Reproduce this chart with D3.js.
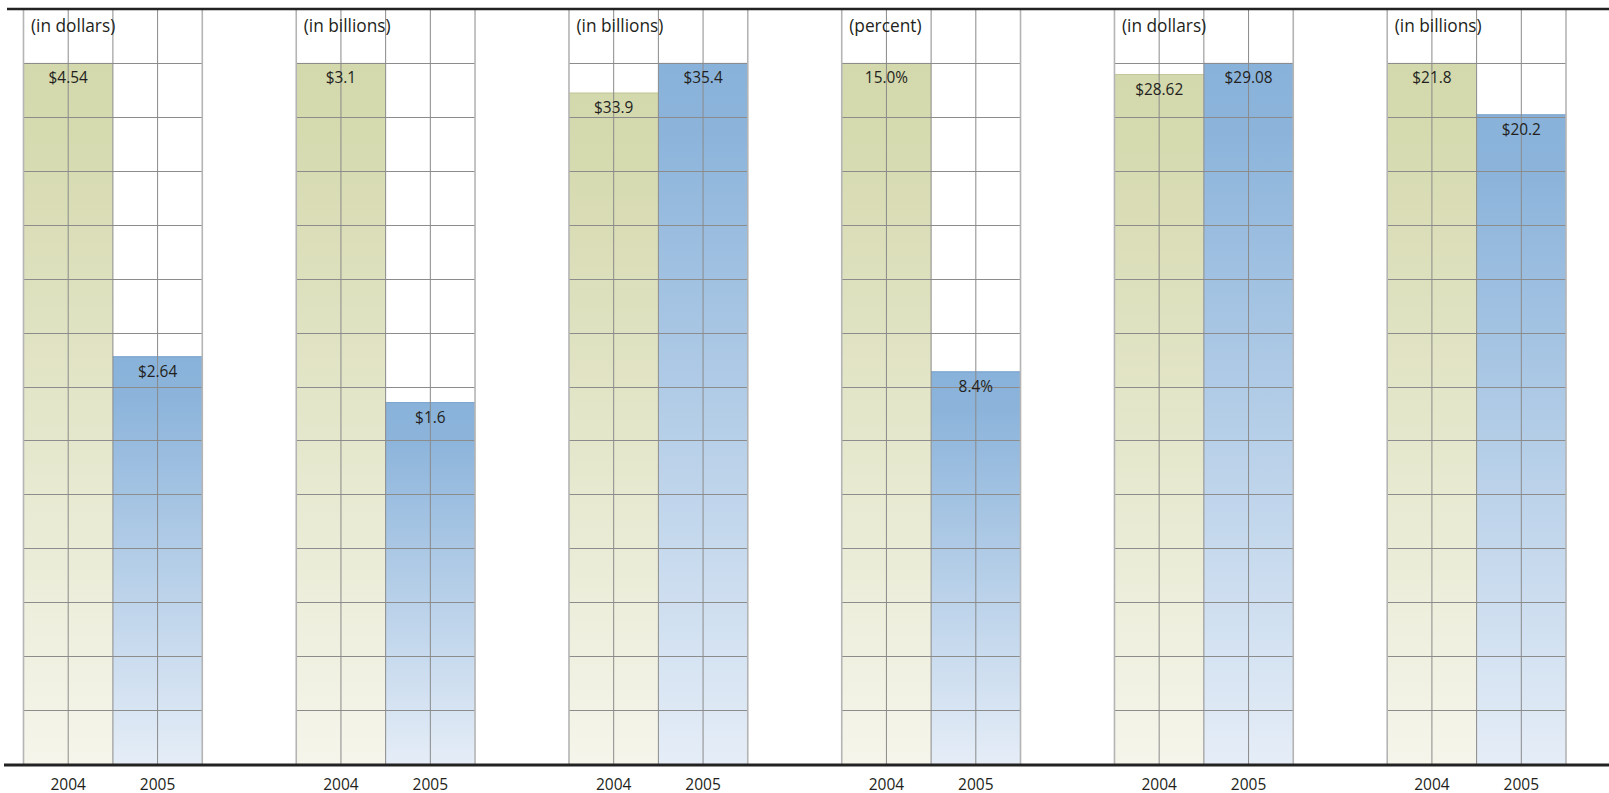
<!DOCTYPE html>
<html>
<head>
<meta charset="utf-8">
<script src="https://cdn.jsdelivr.net/npm/d3@7"></script>
<style>
  body { margin: 0; background: #fff; }
  svg { display: block; font-family: "Open Sans", "Noto Sans", sans-serif; }
</style>
</head>
<body>
<svg width="1609" height="793"></svg>
<script>
const units = ["(in dollars)", "(in billions)", "(in billions)", "(percent)", "(in dollars)", "(in billions)"];
const years = ["2004", "2005"];
const values2004 = [4.54, 3.1, 33.9, 15.0, 28.62, 21.8];
const values2005 = [2.64, 1.6, 35.4, 8.4, 29.08, 20.2];
const labels2004 = ["$4.54", "$3.1", "$33.9", "15.0%", "$28.62", "$21.8"];
const labels2005 = ["$2.64", "$1.6", "$35.4", "8.4%", "$29.08", "$20.2"];

const svg = d3.select("svg");
const width = +svg.attr("width");

const yTop = 9, base = 764, rows = 14;

const panelX = d3.scaleBand()
  .domain(d3.range(units.length))
  .range([23.5, 1566])
  .paddingInner(0.3445);

const yearX = d3.scaleBand().domain(years).range([0, panelX.bandwidth()]);
const rowY = d3.scaleLinear().domain([0, rows]).range([base, yTop]);

// gradients
const defs = svg.append("defs");
const grads = [
  { id: "g2004", stops: [[0, "#d4d8ad"], [0.1, "#d6daaf"], [1, "#f5f5eb"]] },
  { id: "g2005", stops: [[0, "#89b2da"], [0.1, "#8cb4db"], [1, "#e5edf7"]] }
];
grads.forEach(g => {
  const lg = defs.append("linearGradient").attr("id", g.id)
    .attr("x1", 0).attr("y1", 0).attr("x2", 0).attr("y2", 1);
  g.stops.forEach(s => lg.append("stop").attr("offset", s[0]).attr("stop-color", s[1]));
});

const panels = units.map((u, i) => ({
  unit: u,
  bars: [
    { year: "2004", value: values2004[i], label: labels2004[i], fill: "url(#g2004)", edge: "#c4c89a" },
    { year: "2005", value: values2005[i], label: labels2005[i], fill: "url(#g2005)", edge: "#7ba3cc" }
  ]
}));

const g = svg.selectAll(".panel")
  .data(panels)
  .enter()
  .append("g")
  .attr("class", "panel")
  .attr("transform", (d, i) => `translate(${panelX(i)},0)`);

g.each(function(p) {
  const sel = d3.select(this);
  const max = d3.max(p.bars, b => b.value);
  const y = d3.scaleLinear().domain([0, max]).range([base, rowY(rows - 1)]);

  sel.selectAll(".bar")
    .data(p.bars)
    .enter()
    .append("rect")
    .attr("class", "bar")
    .attr("x", b => yearX(b.year))
    .attr("y", b => y(b.value))
    .attr("width", yearX.bandwidth())
    .attr("height", b => base - y(b.value))
    .attr("fill", b => b.fill);

  sel.selectAll(".bartop")
    .data(p.bars)
    .enter()
    .append("line")
    .attr("x1", b => yearX(b.year))
    .attr("x2", b => yearX(b.year) + yearX.bandwidth())
    .attr("y1", b => y(b.value) + 0.5)
    .attr("y2", b => y(b.value) + 0.5)
    .attr("stroke", b => b.edge);

  // grid
  const bw = panelX.bandwidth();
  sel.selectAll(".hgrid")
    .data(d3.range(1, rows))
    .enter()
    .append("line")
    .attr("x1", 0).attr("x2", bw)
    .attr("y1", r => Math.round(rowY(r)) + 0.5)
    .attr("y2", r => Math.round(rowY(r)) + 0.5)
    .attr("stroke", "#8c8c8c")
    .attr("stroke-width", 1);

  sel.selectAll(".vgrid")
    .data(d3.range(5))
    .enter()
    .append("line")
    .attr("x1", c => c * bw / 4)
    .attr("x2", c => c * bw / 4)
    .attr("y1", yTop)
    .attr("y2", base)
    .attr("stroke", c => (c === 0 || c === 4) ? "#b4b4b4" : "#8a8a8a")
    .attr("stroke-width", c => (c === 0 || c === 4) ? 1.6 : 1);

  sel.append("text")
    .attr("x", 7.5)
    .attr("y", 31.5)
    .attr("font-size", 17.3)
    .attr("fill", "#231f20")
    .text(p.unit);

  sel.selectAll(".val")
    .data(p.bars)
    .enter()
    .append("text")
    .attr("x", b => yearX(b.year) + yearX.bandwidth() / 2)
    .attr("y", b => y(b.value) + 20.5)
    .attr("text-anchor", "middle")
    .attr("font-size", 15.4)
    .attr("fill", "#231f20")
    .text(b => b.label);

  sel.selectAll(".year")
    .data(years)
    .enter()
    .append("text")
    .attr("x", yr => yearX(yr) + yearX.bandwidth() / 2)
    .attr("y", 789.5)
    .attr("text-anchor", "middle")
    .attr("font-size", 15.5)
    .attr("fill", "#231f20")
    .text(yr => yr);
});

// rules
svg.append("line")
  .attr("x1", 7).attr("x2", width)
  .attr("y1", yTop).attr("y2", yTop)
  .attr("stroke", "#222").attr("stroke-width", 2.5);

svg.append("line")
  .attr("x1", 4).attr("x2", width)
  .attr("y1", base + 1).attr("y2", base + 1)
  .attr("stroke", "#222").attr("stroke-width", 3);
</script>
</body>
</html>
